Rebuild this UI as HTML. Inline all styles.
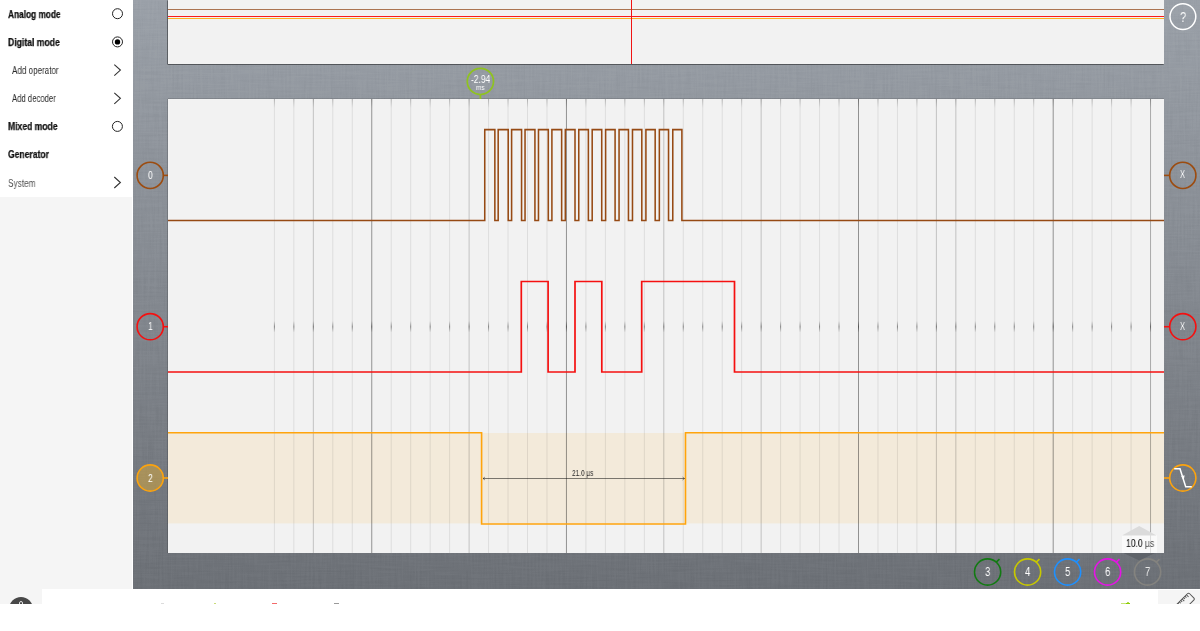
<!DOCTYPE html>
<html><head><meta charset="utf-8"><title>SmartScope</title>
<style>
html,body{margin:0;padding:0;background:#fff;}
body{width:1200px;height:631px;position:relative;overflow:hidden;font-family:"Liberation Sans",sans-serif;}
.abs{position:absolute;}
.t{position:absolute;white-space:nowrap;line-height:1;transform-origin:0 50%;display:block;will-change:transform;}
#bg{left:133px;top:0;width:1067px;height:589px;background:linear-gradient(to bottom,#9aa0a8 0%,#6c7076 100%);}
#side{left:0;top:0;width:133px;height:604px;background:#fff;}
#sidelow{left:0;top:197px;width:132px;height:407px;background:#f5f5f5;}
#bar{left:42px;top:589px;width:1158px;height:15px;background:#fff;}
#rbox{left:1158px;top:590px;width:42px;height:14px;background:#f5f5f5;overflow:hidden;}
#below{left:0;top:604px;width:1200px;height:27px;background:#fff;}
.panel{background:#f2f2f2;}
#top{box-shadow:-1px 0 0 rgba(0,0,0,.22),0 1px 0 rgba(0,0,0,.28),-1px 1px 0 rgba(0,0,0,.22);}
#main{box-shadow:-1px 0 0 rgba(0,0,0,.16),0 -1px 0 rgba(0,0,0,.12);}
#top{left:168px;top:0;width:996px;height:64px;}
#main{left:168px;top:99px;width:996px;height:454px;}
.hl{position:absolute;left:0;width:100%;height:1px;}
#tb{left:1122px;top:535px;width:35px;height:18px;background:rgba(255,255,255,.6);}
</style></head><body>
<div id="bg" class="abs"><svg width="1067" height="589" style="position:absolute;left:0;top:0;opacity:.027;mix-blend-mode:overlay">
<filter id="lin" x="0" y="0" width="100%" height="100%" color-interpolation-filters="sRGB"><feTurbulence type="fractalNoise" baseFrequency="0.55 0.03" numOctaves="3" seed="3" result="a"/><feTurbulence type="fractalNoise" baseFrequency="0.03 0.55" numOctaves="3" seed="8" result="b"/><feComposite in="a" in2="b" operator="arithmetic" k1="0" k2="0.5" k3="0.5" k4="0"/><feColorMatrix values="1 0 0 0 0 1 0 0 0 0 1 0 0 0 0 0 0 0 0 1"/><feComponentTransfer><feFuncR type="linear" slope="3.4" intercept="-1.2"/><feFuncG type="linear" slope="3.4" intercept="-1.2"/><feFuncB type="linear" slope="3.4" intercept="-1.2"/></feComponentTransfer></filter>
<rect width="1067" height="589" filter="url(#lin)"/></svg></div>
<div id="side" class="abs"></div>
<div id="sidelow" class="abs"></div>
<div id="top" class="abs panel">
 <div class="hl" style="top:9px;background:#ab7452"></div>
 <div class="hl" style="top:16px;background:#fa1c1c"></div>
 <div class="hl" style="top:18px;background:#fdb11f"></div>
 <div class="abs" style="left:463px;top:0;width:1px;height:64px;background:#f01414"></div>
</div>
<div id="main" class="abs panel"></div>
<svg class="abs" style="left:0;top:0" width="1200" height="631" viewBox="0 0 1200 631">
<defs>
<linearGradient id="tf" x1="0" y1="99" x2="0" y2="108" gradientUnits="userSpaceOnUse"><stop offset="0" stop-color="#000" stop-opacity=".22"/><stop offset="1" stop-color="#000" stop-opacity="0"/></linearGradient>
<linearGradient id="tk" x1="0" y1="321" x2="0" y2="332.5" gradientUnits="userSpaceOnUse"><stop offset="0" stop-color="#000" stop-opacity="0"/><stop offset=".5" stop-color="#000" stop-opacity=".42"/><stop offset="1" stop-color="#000" stop-opacity="0"/></linearGradient>
</defs>
<rect x="168" y="433" width="996" height="90.4" fill="#f3eada"/>
<g stroke-width="1" fill="none">
<line x1="274.4" y1="99" x2="274.4" y2="553" stroke="#000" stroke-opacity="0.088"/>
<line x1="274.4" y1="99" x2="274.4" y2="108" stroke="url(#tf)"/>
<line x1="293.87" y1="99" x2="293.87" y2="553" stroke="#000" stroke-opacity="0.088"/>
<line x1="293.87" y1="99" x2="293.87" y2="108" stroke="url(#tf)"/>
<line x1="313.34" y1="99" x2="313.34" y2="553" stroke="#000" stroke-opacity="0.2"/>
<line x1="313.34" y1="99" x2="313.34" y2="108" stroke="url(#tf)"/>
<line x1="332.81" y1="99" x2="332.81" y2="553" stroke="#000" stroke-opacity="0.088"/>
<line x1="332.81" y1="99" x2="332.81" y2="108" stroke="url(#tf)"/>
<line x1="352.28" y1="99" x2="352.28" y2="553" stroke="#000" stroke-opacity="0.088"/>
<line x1="352.28" y1="99" x2="352.28" y2="108" stroke="url(#tf)"/>
<line x1="371.75" y1="99" x2="371.75" y2="553" stroke="#000" stroke-opacity="0.4"/>
<line x1="371.75" y1="99" x2="371.75" y2="108" stroke="url(#tf)"/>
<line x1="391.22" y1="99" x2="391.22" y2="553" stroke="#000" stroke-opacity="0.088"/>
<line x1="391.22" y1="99" x2="391.22" y2="108" stroke="url(#tf)"/>
<line x1="410.69" y1="99" x2="410.69" y2="553" stroke="#000" stroke-opacity="0.088"/>
<line x1="410.69" y1="99" x2="410.69" y2="108" stroke="url(#tf)"/>
<line x1="430.16" y1="99" x2="430.16" y2="553" stroke="#000" stroke-opacity="0.088"/>
<line x1="430.16" y1="99" x2="430.16" y2="108" stroke="url(#tf)"/>
<line x1="449.63" y1="99" x2="449.63" y2="553" stroke="#000" stroke-opacity="0.088"/>
<line x1="449.63" y1="99" x2="449.63" y2="108" stroke="url(#tf)"/>
<line x1="469.1" y1="99" x2="469.1" y2="553" stroke="#000" stroke-opacity="0.2"/>
<line x1="469.1" y1="99" x2="469.1" y2="108" stroke="url(#tf)"/>
<line x1="488.57" y1="99" x2="488.57" y2="553" stroke="#000" stroke-opacity="0.088"/>
<line x1="488.57" y1="99" x2="488.57" y2="108" stroke="url(#tf)"/>
<line x1="508.04" y1="99" x2="508.04" y2="553" stroke="#000" stroke-opacity="0.088"/>
<line x1="508.04" y1="99" x2="508.04" y2="108" stroke="url(#tf)"/>
<line x1="527.51" y1="99" x2="527.51" y2="553" stroke="#000" stroke-opacity="0.088"/>
<line x1="527.51" y1="99" x2="527.51" y2="108" stroke="url(#tf)"/>
<line x1="546.98" y1="99" x2="546.98" y2="553" stroke="#000" stroke-opacity="0.088"/>
<line x1="546.98" y1="99" x2="546.98" y2="108" stroke="url(#tf)"/>
<line x1="566.45" y1="99" x2="566.45" y2="553" stroke="#000" stroke-opacity="0.4"/>
<line x1="566.45" y1="99" x2="566.45" y2="108" stroke="url(#tf)"/>
<line x1="585.92" y1="99" x2="585.92" y2="553" stroke="#000" stroke-opacity="0.088"/>
<line x1="585.92" y1="99" x2="585.92" y2="108" stroke="url(#tf)"/>
<line x1="605.39" y1="99" x2="605.39" y2="553" stroke="#000" stroke-opacity="0.088"/>
<line x1="605.39" y1="99" x2="605.39" y2="108" stroke="url(#tf)"/>
<line x1="624.86" y1="99" x2="624.86" y2="553" stroke="#000" stroke-opacity="0.088"/>
<line x1="624.86" y1="99" x2="624.86" y2="108" stroke="url(#tf)"/>
<line x1="644.33" y1="99" x2="644.33" y2="553" stroke="#000" stroke-opacity="0.088"/>
<line x1="644.33" y1="99" x2="644.33" y2="108" stroke="url(#tf)"/>
<line x1="663.8" y1="99" x2="663.8" y2="553" stroke="#000" stroke-opacity="0.2"/>
<line x1="663.8" y1="99" x2="663.8" y2="108" stroke="url(#tf)"/>
<line x1="683.27" y1="99" x2="683.27" y2="553" stroke="#000" stroke-opacity="0.088"/>
<line x1="683.27" y1="99" x2="683.27" y2="108" stroke="url(#tf)"/>
<line x1="702.74" y1="99" x2="702.74" y2="553" stroke="#000" stroke-opacity="0.088"/>
<line x1="702.74" y1="99" x2="702.74" y2="108" stroke="url(#tf)"/>
<line x1="722.21" y1="99" x2="722.21" y2="553" stroke="#000" stroke-opacity="0.088"/>
<line x1="722.21" y1="99" x2="722.21" y2="108" stroke="url(#tf)"/>
<line x1="741.68" y1="99" x2="741.68" y2="553" stroke="#000" stroke-opacity="0.088"/>
<line x1="741.68" y1="99" x2="741.68" y2="108" stroke="url(#tf)"/>
<line x1="761.15" y1="99" x2="761.15" y2="553" stroke="#000" stroke-opacity="0.2"/>
<line x1="761.15" y1="99" x2="761.15" y2="108" stroke="url(#tf)"/>
<line x1="780.62" y1="99" x2="780.62" y2="553" stroke="#000" stroke-opacity="0.088"/>
<line x1="780.62" y1="99" x2="780.62" y2="108" stroke="url(#tf)"/>
<line x1="800.09" y1="99" x2="800.09" y2="553" stroke="#000" stroke-opacity="0.088"/>
<line x1="800.09" y1="99" x2="800.09" y2="108" stroke="url(#tf)"/>
<line x1="819.56" y1="99" x2="819.56" y2="553" stroke="#000" stroke-opacity="0.088"/>
<line x1="819.56" y1="99" x2="819.56" y2="108" stroke="url(#tf)"/>
<line x1="839.03" y1="99" x2="839.03" y2="553" stroke="#000" stroke-opacity="0.088"/>
<line x1="839.03" y1="99" x2="839.03" y2="108" stroke="url(#tf)"/>
<line x1="858.5" y1="99" x2="858.5" y2="553" stroke="#000" stroke-opacity="0.4"/>
<line x1="858.5" y1="99" x2="858.5" y2="108" stroke="url(#tf)"/>
<line x1="877.97" y1="99" x2="877.97" y2="553" stroke="#000" stroke-opacity="0.088"/>
<line x1="877.97" y1="99" x2="877.97" y2="108" stroke="url(#tf)"/>
<line x1="897.44" y1="99" x2="897.44" y2="553" stroke="#000" stroke-opacity="0.088"/>
<line x1="897.44" y1="99" x2="897.44" y2="108" stroke="url(#tf)"/>
<line x1="916.91" y1="99" x2="916.91" y2="553" stroke="#000" stroke-opacity="0.088"/>
<line x1="916.91" y1="99" x2="916.91" y2="108" stroke="url(#tf)"/>
<line x1="936.38" y1="99" x2="936.38" y2="553" stroke="#000" stroke-opacity="0.2"/>
<line x1="936.38" y1="99" x2="936.38" y2="108" stroke="url(#tf)"/>
<line x1="955.85" y1="99" x2="955.85" y2="553" stroke="#000" stroke-opacity="0.2"/>
<line x1="955.85" y1="99" x2="955.85" y2="108" stroke="url(#tf)"/>
<line x1="975.32" y1="99" x2="975.32" y2="553" stroke="#000" stroke-opacity="0.088"/>
<line x1="975.32" y1="99" x2="975.32" y2="108" stroke="url(#tf)"/>
<line x1="994.79" y1="99" x2="994.79" y2="553" stroke="#000" stroke-opacity="0.088"/>
<line x1="994.79" y1="99" x2="994.79" y2="108" stroke="url(#tf)"/>
<line x1="1014.26" y1="99" x2="1014.26" y2="553" stroke="#000" stroke-opacity="0.088"/>
<line x1="1014.26" y1="99" x2="1014.26" y2="108" stroke="url(#tf)"/>
<line x1="1033.73" y1="99" x2="1033.73" y2="553" stroke="#000" stroke-opacity="0.088"/>
<line x1="1033.73" y1="99" x2="1033.73" y2="108" stroke="url(#tf)"/>
<line x1="1053.2" y1="99" x2="1053.2" y2="553" stroke="#000" stroke-opacity="0.4"/>
<line x1="1053.2" y1="99" x2="1053.2" y2="108" stroke="url(#tf)"/>
<line x1="1072.67" y1="99" x2="1072.67" y2="553" stroke="#000" stroke-opacity="0.088"/>
<line x1="1072.67" y1="99" x2="1072.67" y2="108" stroke="url(#tf)"/>
<line x1="1092.14" y1="99" x2="1092.14" y2="553" stroke="#000" stroke-opacity="0.088"/>
<line x1="1092.14" y1="99" x2="1092.14" y2="108" stroke="url(#tf)"/>
<line x1="1111.61" y1="99" x2="1111.61" y2="553" stroke="#000" stroke-opacity="0.088"/>
<line x1="1111.61" y1="99" x2="1111.61" y2="108" stroke="url(#tf)"/>
<line x1="1131.08" y1="99" x2="1131.08" y2="553" stroke="#000" stroke-opacity="0.088"/>
<line x1="1131.08" y1="99" x2="1131.08" y2="108" stroke="url(#tf)"/>
<line x1="1150.55" y1="99" x2="1150.55" y2="553" stroke="#000" stroke-opacity="0.3"/>
<line x1="1150.55" y1="99" x2="1150.55" y2="108" stroke="url(#tf)"/>
<line x1="274.4" y1="321" x2="274.4" y2="332.5" stroke="url(#tk)"/>
<line x1="293.87" y1="321" x2="293.87" y2="332.5" stroke="url(#tk)"/>
<line x1="313.34" y1="321" x2="313.34" y2="332.5" stroke="url(#tk)"/>
<line x1="332.81" y1="321" x2="332.81" y2="332.5" stroke="url(#tk)"/>
<line x1="352.28" y1="321" x2="352.28" y2="332.5" stroke="url(#tk)"/>
<line x1="371.75" y1="321" x2="371.75" y2="332.5" stroke="url(#tk)"/>
<line x1="391.22" y1="321" x2="391.22" y2="332.5" stroke="url(#tk)"/>
<line x1="410.69" y1="321" x2="410.69" y2="332.5" stroke="url(#tk)"/>
<line x1="430.16" y1="321" x2="430.16" y2="332.5" stroke="url(#tk)"/>
<line x1="449.63" y1="321" x2="449.63" y2="332.5" stroke="url(#tk)"/>
<line x1="469.1" y1="321" x2="469.1" y2="332.5" stroke="url(#tk)"/>
<line x1="488.57" y1="321" x2="488.57" y2="332.5" stroke="url(#tk)"/>
<line x1="508.04" y1="321" x2="508.04" y2="332.5" stroke="url(#tk)"/>
<line x1="527.51" y1="321" x2="527.51" y2="332.5" stroke="url(#tk)"/>
<line x1="546.98" y1="321" x2="546.98" y2="332.5" stroke="url(#tk)"/>
<line x1="566.45" y1="321" x2="566.45" y2="332.5" stroke="url(#tk)"/>
<line x1="585.92" y1="321" x2="585.92" y2="332.5" stroke="url(#tk)"/>
<line x1="605.39" y1="321" x2="605.39" y2="332.5" stroke="url(#tk)"/>
<line x1="624.86" y1="321" x2="624.86" y2="332.5" stroke="url(#tk)"/>
<line x1="644.33" y1="321" x2="644.33" y2="332.5" stroke="url(#tk)"/>
<line x1="663.8" y1="321" x2="663.8" y2="332.5" stroke="url(#tk)"/>
<line x1="683.27" y1="321" x2="683.27" y2="332.5" stroke="url(#tk)"/>
<line x1="702.74" y1="321" x2="702.74" y2="332.5" stroke="url(#tk)"/>
<line x1="722.21" y1="321" x2="722.21" y2="332.5" stroke="url(#tk)"/>
<line x1="741.68" y1="321" x2="741.68" y2="332.5" stroke="url(#tk)"/>
<line x1="761.15" y1="321" x2="761.15" y2="332.5" stroke="url(#tk)"/>
<line x1="780.62" y1="321" x2="780.62" y2="332.5" stroke="url(#tk)"/>
<line x1="800.09" y1="321" x2="800.09" y2="332.5" stroke="url(#tk)"/>
<line x1="819.56" y1="321" x2="819.56" y2="332.5" stroke="url(#tk)"/>
<line x1="839.03" y1="321" x2="839.03" y2="332.5" stroke="url(#tk)"/>
<line x1="858.5" y1="321" x2="858.5" y2="332.5" stroke="url(#tk)"/>
<line x1="877.97" y1="321" x2="877.97" y2="332.5" stroke="url(#tk)"/>
<line x1="897.44" y1="321" x2="897.44" y2="332.5" stroke="url(#tk)"/>
<line x1="916.91" y1="321" x2="916.91" y2="332.5" stroke="url(#tk)"/>
<line x1="936.38" y1="321" x2="936.38" y2="332.5" stroke="url(#tk)"/>
<line x1="955.85" y1="321" x2="955.85" y2="332.5" stroke="url(#tk)"/>
<line x1="975.32" y1="321" x2="975.32" y2="332.5" stroke="url(#tk)"/>
<line x1="994.79" y1="321" x2="994.79" y2="332.5" stroke="url(#tk)"/>
<line x1="1014.26" y1="321" x2="1014.26" y2="332.5" stroke="url(#tk)"/>
<line x1="1033.73" y1="321" x2="1033.73" y2="332.5" stroke="url(#tk)"/>
<line x1="1053.2" y1="321" x2="1053.2" y2="332.5" stroke="url(#tk)"/>
<line x1="1072.67" y1="321" x2="1072.67" y2="332.5" stroke="url(#tk)"/>
<line x1="1092.14" y1="321" x2="1092.14" y2="332.5" stroke="url(#tk)"/>
<line x1="1111.61" y1="321" x2="1111.61" y2="332.5" stroke="url(#tk)"/>
<line x1="1131.08" y1="321" x2="1131.08" y2="332.5" stroke="url(#tk)"/>
<line x1="1150.55" y1="321" x2="1150.55" y2="332.5" stroke="url(#tk)"/>
</g>
<polyline points="168,220.5 484.75,220.5 484.75,129.6 494.85,129.6 494.85,220.5 498.18,220.5 498.18,129.6 508.21,129.6 508.21,220.5 511.61,220.5 511.61,129.6 521.57,129.6 521.57,220.5 525.04,220.5 525.04,129.6 534.93,129.6 534.93,220.5 538.47,220.5 538.47,129.6 548.29,129.6 548.29,220.5 551.9,220.5 551.9,129.6 561.65,129.6 561.65,220.5 565.33,220.5 565.33,129.6 575.01,129.6 575.01,220.5 578.76,220.5 578.76,129.6 588.37,129.6 588.37,220.5 592.19,220.5 592.19,129.6 601.73,129.6 601.73,220.5 605.62,220.5 605.62,129.6 615.09,129.6 615.09,220.5 619.05,220.5 619.05,129.6 628.45,129.6 628.45,220.5 632.48,220.5 632.48,129.6 641.81,129.6 641.81,220.5 645.91,220.5 645.91,129.6 655.17,129.6 655.17,220.5 659.34,220.5 659.34,129.6 668.53,129.6 668.53,220.5 672.77,220.5 672.77,129.6 681.89,129.6 681.89,220.5 1164,220.5" fill="none" stroke="#964a14" stroke-width="1.55" stroke-linejoin="miter"/>
<polyline points="168,372 521.3,372 521.3,281.5 548.1,281.5 548.1,372 575,372 575,281.5 601.8,281.5 601.8,372 641.7,372 641.7,281.5 734.5,281.5 734.5,372 1164,372" fill="none" stroke="#f51010" stroke-width="1.7" stroke-linejoin="miter"/>
<polyline points="168,432.8 481.6,432.8 481.6,524.0 685.5,524.0 685.5,432.8 1164,432.8" fill="none" stroke="#ffa40c" stroke-width="1.6" stroke-linejoin="miter"/>
<!-- measurement arrow -->
<g stroke="#000" stroke-opacity=".5" stroke-width="1" fill="none">
<line x1="483" y1="478.5" x2="684.5" y2="478.5"/>
<polyline points="485,477 483,478.5 485,480" stroke-width=".8"/>
<polyline points="682.5,477 684.5,478.5 682.5,480" stroke-width=".8"/>
</g>
</svg>
<div id="tb" class="abs"></div>
<svg class="abs" style="left:0;top:0" width="1200" height="631" viewBox="0 0 1200 631">
<!-- left channel indicators -->
<circle cx="150.2" cy="175.4" r="13.1" fill="none" stroke="#9c4c10" stroke-width="1.6"/><line x1="163.3" y1="175.4" x2="168" y2="175.4" stroke="#9c4c10" stroke-width="1.6"/>
<circle cx="150.2" cy="326.7" r="13.1" fill="none" stroke="#f51010" stroke-width="1.6"/><line x1="163.3" y1="326.7" x2="168" y2="326.7" stroke="#f51010" stroke-width="1.6"/>
<circle cx="150.2" cy="478" r="13.1" fill="rgba(243,180,38,0.4)" stroke="#fba30f" stroke-width="1.6"/><line x1="163.3" y1="478" x2="168" y2="478" stroke="#fba30f" stroke-width="1.6"/>
<!-- right channel indicators -->
<circle cx="1182.8" cy="175.4" r="13.1" fill="none" stroke="#9c4c10" stroke-width="1.6"/><line x1="1164" y1="175.4" x2="1169.7" y2="175.4" stroke="#9c4c10" stroke-width="1.6"/>
<circle cx="1182.8" cy="326.7" r="13.1" fill="none" stroke="#f51010" stroke-width="1.6"/><line x1="1164" y1="326.7" x2="1169.7" y2="326.7" stroke="#f51010" stroke-width="1.6"/>
<circle cx="1182.8" cy="478" r="13.1" fill="none" stroke="#fba30f" stroke-width="1.6"/><line x1="1164" y1="478" x2="1169.7" y2="478" stroke="#fba30f" stroke-width="1.6"/>
<polyline points="1174.2,468.8 1180,468.8 1185.7,486.8 1191.8,486.8" fill="none" stroke="#fff" stroke-width="1.5"/>
<polygon points="1181.2,476.2 1184.6,475.3 1183.7,480.6" fill="#fff"/>
<!-- help -->
<circle cx="1182.9" cy="16.6" r="12.9" fill="none" stroke="#fff" stroke-width="1.5"/>
<!-- trigger time -->
<circle cx="480.4" cy="81.4" r="13.1" fill="none" stroke="#8fc31f" stroke-width="1.7"/>
<line x1="480.4" y1="94.4" x2="480.4" y2="99" stroke="#8fc31f" stroke-width="1.7"/>
<!-- hidden channels -->
<circle cx="987.6" cy="572" r="13.1" fill="none" stroke="#127a12" stroke-width="1.6"/><line x1="996.2" y1="562.1" x2="999.5" y2="559.1" stroke="#127a12" stroke-width="1.6"/>
<circle cx="1027.6" cy="572" r="13.1" fill="none" stroke="#c8c800" stroke-width="1.6"/><line x1="1036.2" y1="562.1" x2="1039.5" y2="559.1" stroke="#c8c800" stroke-width="1.6"/>
<circle cx="1067.6" cy="572" r="13.1" fill="none" stroke="#1e90ff" stroke-width="1.6"/><line x1="1076.2" y1="562.1" x2="1079.5" y2="559.1" stroke="#1e90ff" stroke-width="1.6"/>
<circle cx="1107.6" cy="572" r="13.1" fill="none" stroke="#e613e6" stroke-width="1.6"/><line x1="1116.2" y1="562.1" x2="1119.5" y2="559.1" stroke="#e613e6" stroke-width="1.6"/>
<circle cx="1147.6" cy="572" r="13.1" fill="none" stroke="#84837f" stroke-width="1.6"/><line x1="1156.2" y1="562.1" x2="1159.5" y2="559.1" stroke="#84837f" stroke-width="1.6"/>
<!-- timebase arrows -->
<polygon points="1122,535.4 1139.2,526 1156.5,535.4" fill="#dbdbdb"/>
<polygon points="1123.5,553 1139.3,560.5 1155,553" fill="#5f6369"/>
</svg>
<!-- sidebar widgets -->
<svg class="abs" style="left:0;top:0" width="133" height="200" viewBox="0 0 133 200">
<g fill="#fff" stroke="#222" stroke-width="1">
<circle cx="117.5" cy="13.7" r="5"/><circle cx="117.5" cy="41.9" r="5"/><circle cx="117.4" cy="126.4" r="5"/>
</g>
<circle cx="117.5" cy="41.9" r="2.7" fill="#000"/>
<g fill="none" stroke="#333" stroke-width="1.1">
<polyline points="114.3,64.6 120.4,70.1 114.3,75.6"/>
<polyline points="114.3,92.8 120.4,98.3 114.3,103.8"/>
<polyline points="114.3,177 120.4,182.5 114.3,188"/>
</g>
</svg>
<span class="t" style="left:8.1px;top:9.93px;font-size:10px;color:#111;font-weight:bold;transform:scaleX(0.830);-webkit-text-stroke:.25px #111;">Analog mode</span><span class="t" style="left:8.1px;top:37.94px;font-size:10px;color:#111;font-weight:bold;transform:scaleX(0.863);-webkit-text-stroke:.25px #111;">Digital mode</span><span class="t" style="left:11.7px;top:65.94px;font-size:10px;color:#2a2a2a;font-weight:normal;transform:scaleX(0.806);">Add operator</span><span class="t" style="left:11.7px;top:93.94px;font-size:10px;color:#2a2a2a;font-weight:normal;transform:scaleX(0.772);">Add decoder</span><span class="t" style="left:8.3px;top:121.94px;font-size:10px;color:#111;font-weight:bold;transform:scaleX(0.858);-webkit-text-stroke:.25px #111;">Mixed mode</span><span class="t" style="left:8.3px;top:149.94px;font-size:10px;color:#111;font-weight:bold;transform:scaleX(0.856);-webkit-text-stroke:.25px #111;">Generator</span><span class="t" style="left:8.3px;top:178.94px;font-size:10px;color:#505050;font-weight:normal;transform:scaleX(0.825);">System</span><span class="t" style="left:147.9px;top:170.9px;font-size:10.4px;color:#fff;font-weight:normal;transform:scaleX(0.830);">0</span><span class="t" style="left:147.9px;top:322.2px;font-size:10.4px;color:#fff;font-weight:normal;transform:scaleX(0.830);">1</span><span class="t" style="left:147.9px;top:473.5px;font-size:10.4px;color:#fff;font-weight:normal;transform:scaleX(0.830);">2</span><span class="t" style="left:1180.2px;top:170.4px;font-size:10.4px;color:#fff;font-weight:normal;transform:scaleX(0.721);">X</span><span class="t" style="left:1180.2px;top:321.7px;font-size:10.4px;color:#fff;font-weight:normal;transform:scaleX(0.721);">X</span><span class="t" style="left:1179.8px;top:9.93px;font-size:14.5px;color:rgba(255,255,255,.93);font-weight:normal;transform:scaleX(0.769);">?</span><span class="t" style="left:470.9px;top:74.6px;font-size:10.4px;color:#fff;font-weight:normal;transform:scaleX(0.810);">-2.94</span><span class="t" style="left:476.1px;top:83.77px;font-size:7.6px;color:#fff;font-weight:normal;transform:scaleX(0.848);">ms</span><span class="t" style="left:571.75px;top:468.72px;font-size:8.6px;color:#2a2a2a;font-weight:normal;transform:scaleX(0.757);">21.0 µs</span><span class="t" style="left:984.95px;top:565.93px;font-size:12.6px;color:#fff;font-weight:normal;transform:scaleX(0.757);">3</span><span class="t" style="left:1024.95px;top:565.93px;font-size:12.6px;color:#fff;font-weight:normal;transform:scaleX(0.757);">4</span><span class="t" style="left:1064.95px;top:565.93px;font-size:12.6px;color:#fff;font-weight:normal;transform:scaleX(0.757);">5</span><span class="t" style="left:1104.95px;top:565.93px;font-size:12.6px;color:#fff;font-weight:normal;transform:scaleX(0.757);">6</span><span class="t" style="left:1144.95px;top:565.93px;font-size:12.6px;color:#e8e8e8;font-weight:normal;transform:scaleX(0.757);">7</span><span class="t" style="left:1125.6px;top:538.33px;font-size:10.6px;color:#222;font-weight:normal;transform:scaleX(0.806);"><span style="color:#111;-webkit-text-stroke:.1px #111">10.0</span> <span style="color:#4a4a4a">µs</span></span>
<div id="bar" class="abs"></div>
<div id="rbox" class="abs">
<svg width="42" height="14" viewBox="1158 590 42 14"><g fill="none" stroke="#555" stroke-width="1">
<rect x="-3.5" y="-14" width="9" height="30" rx="1.6" transform="translate(1181.1,605) rotate(45)"/>
<g transform="translate(1181.1,605) rotate(45)"><path d="M-3.5,-11h3M-3.5,-9h2M-3.5,-7h2M-3.5,-5h3M-3.5,-3h2M-3.5,-1h2M-3.5,1h3M-3.5,3h2"/></g>
</g></svg>
</div>
<!-- bottom-left menu button (clipped) -->
<div class="abs" style="left:0;top:589px;width:42px;height:15px;overflow:hidden">
 <div class="abs" style="left:9px;top:8px;width:24px;height:24px;border-radius:50%;background:#484848"></div>
 <div class="abs" style="left:19px;top:12px;width:2px;height:4px;border:1px solid #e4e4e4;border-radius:2px 2px 0 0;"></div>
</div>
<!-- clipped bottom-bar marks -->
<div class="abs" style="left:161px;top:603px;width:3px;height:1px;background:#dcdcdc"></div>
<div class="abs" style="left:214px;top:603px;width:2px;height:1px;background:#c9dc7a"></div>
<div class="abs" style="left:272px;top:603px;width:5px;height:1px;background:#f36a6a"></div>
<div class="abs" style="left:334px;top:603px;width:5px;height:1px;background:#9a9a9a"></div>
<div class="abs" style="left:1121px;top:603px;width:5px;height:1px;background:#c6e475"></div>
<div class="abs" style="left:1126px;top:603px;width:4px;height:1px;background:#8ccc05"></div>
<div class="abs" style="left:1127px;top:602px;width:2px;height:1px;background:#b3dc52"></div>
<div id="below" class="abs"></div>
</body></html>
